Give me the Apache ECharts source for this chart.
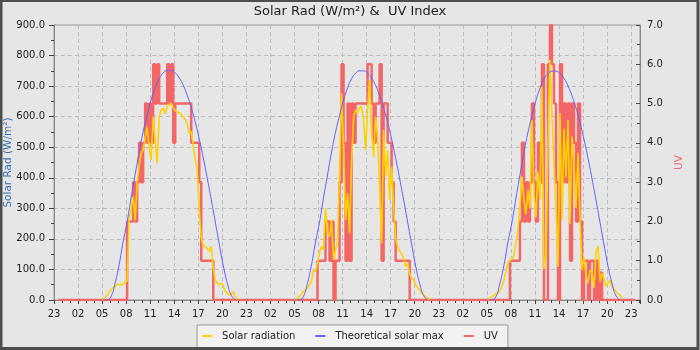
<!DOCTYPE html>
<html>
<head>
<meta charset="utf-8">
<script src="https://cdn.jsdelivr.net/npm/echarts@6.0.0/dist/echarts.min.js"></script>
<style>
  html, body { margin: 0; padding: 0; background: #e6e6e6; }
  #solar-uv-chart { width: 700px; height: 350px; }
</style>
</head>
<body>
<div id="solar-uv-chart"></div>
<script>
// x values are hours counted from the first 23:00 on the axis
const hourTicks = [23, 2, 5, 8, 11, 14, 17, 20];
const firstSample = 6.12;  // first daytime sample, ~05:07
const sampleStep = 0.25;   // solar + uv read every 15 min
const theoStep = 0.5;      // theoretical max read every 30 min
const uvNightStart = 0.55;
const uvNightEnd = 72.5;

// Solar radiation W/m2, day 1..3
const solarDay1 = [0, 8, 15, 25, 33, 40, 44, 52, 50, 49, 52, 58, 62, 262, 300, 338, 260, 380, 440, 480,
  491, 530, 567, 500, 458, 600, 520, 447, 600, 620, 628, 610, 633, 640, 644, 630, 620, 616, 612, 608,
  600, 590, 575, 545, 551, 505, 460, 425, 300, 200, 180, 175, 168, 160, 175, 100, 65, 55, 50, 55,
  45, 30, 22, 16, 20, 27, 10, 2];
const solarDay2 = [0, 5, 12, 20, 28, 33, 40, 50, 60, 98, 93, 120, 155, 175, 165, 300, 220, 207, 262, 131,
  164, 190, 420, 676, 500, 262, 349, 218, 450, 600, 622, 610, 630, 633, 589, 491, 622, 720, 545, 469,
  600, 534, 360, 186, 556, 404, 491, 327, 436, 300, 200, 175, 160, 150, 135, 110, 120, 85, 71, 65,
  50, 40, 33, 22, 16, 10, 5, 1];
const solarDay3 = [0, 5, 11, 15, 20, 22, 30, 45, 65, 93, 120, 128, 135, 147, 186, 230, 300, 404, 330, 280,
  360, 300, 589, 350, 270, 420, 330, 698, 100, 150, 500, 785, 600, 450, 300, 109, 611, 262, 560, 400,
  589, 250, 534, 450, 300, 480, 262, 98, 140, 80, 55, 98, 90, 40, 160, 175, 60, 87, 70, 45,
  55, 65, 43, 35, 27, 20, 16, 5];

// Theoretical solar max W/m2
const theoDay1 = [0, 0, 12, 55, 115, 190, 255, 335, 410, 485, 550, 605, 655, 695, 725, 743, 751, 751,
  743, 727, 703, 670, 630, 582, 527, 465, 398, 328, 255, 182, 112, 55, 15, 0];
const theoDay2 = [0, 0, 12, 55, 114, 189, 254, 334, 409, 484, 549, 604, 654, 694, 724, 742, 750, 750,
  742, 726, 702, 669, 629, 581, 526, 464, 397, 327, 254, 181, 111, 54, 14, 0];
const theoDay3 = [0, 0, 11, 54, 113, 188, 253, 333, 408, 483, 548, 603, 653, 693, 723, 741, 749, 749,
  741, 725, 701, 668, 628, 580, 525, 463, 396, 326, 253, 180, 110, 53, 13, 0];

// UV index
const uvDay1 = [0, 0, 0, 0, 0, 0, 0, 0, 0, 0, 0, 0, 2, 2, 2, 3, 2, 3, 4, 3,
  4, 5, 4, 5, 4, 6, 5, 6, 5, 5, 5, 5, 6, 5, 6, 4, 5, 5, 5, 5,
  5, 5, 5, 5, 4, 4, 4, 4, 3, 1, 1, 1, 1, 1, 1, 0, 0, 0, 0, 0,
  0, 0, 0, 0, 0, 0, 0, 0];
const uvDay2 = [0, 0, 0, 0, 0, 0, 0, 0, 0, 0, 0, 1, 1, 1, 1, 2, 2, 1, 2, 0,
  1, 1, 3, 6, 4, 1, 5, 1, 5, 4, 5, 5, 5, 5, 5, 5, 6, 6, 5, 4,
  5, 5, 6, 1, 5, 5, 4, 4, 3, 2, 1, 1, 1, 1, 1, 1, 1, 0, 0, 0,
  0, 0, 0, 0, 0, 0, 0, 0];
const uvDay3 = [0, 0, 0, 0, 0, 0, 0, 0, 0, 0, 0, 1, 1, 1, 1, 1, 2, 4, 2, 3,
  2, 3, 5, 3, 2, 4, 3, 6, 0, 0, 6, 7, 6, 5, 3, 0, 6, 3, 5, 3,
  5, 1, 5, 4, 2, 5, 2, 0, 1, 1, 0, 1, 1, 0, 1, 0, 0.7, 0, 0, 0,
  0, 0, 0, 0, 0, 0, 0, 0];

function daySeries(days, step) {
  let out = [];
  days.forEach((vals, d) => {
    vals.forEach((v, i) => {
      out.push([firstSample + 24 * d + i * step, v]);
    });
    out.push([firstSample + 24 * d + vals.length * step, '-']); // no line overnight
  });
  return out;
}

function uvSeries(days) {
  let out = [[uvNightStart, 0]];
  days.forEach((vals, d) => {
    vals.forEach((v, i) => {
      out.push([firstSample + 24 * d + i * sampleStep, v]);
    });
  });
  out.push([uvNightEnd, 0]);
  return out;
}

let myChart = echarts.init(document.getElementById('solar-uv-chart'));

const gridLine = {
  show: true,
  lineStyle: { color: '#bcbcbc', type: [4, 3], width: 1 }
};

let option = {
  animation: false,
  backgroundColor: '#e6e6e6',
  textStyle: { fontFamily: 'DejaVu Sans' },
  title: {
    text: 'Solar Rad (W/m²) &  UV Index',
    left: 'center',
    top: 5,
    padding: 0,
    textStyle: { fontSize: 13, fontWeight: 'normal', color: '#222', fontFamily: 'DejaVu Sans' }
  },
  grid: {
    left: 54,
    right: 60,
    top: 25,
    bottom: 50,
    containLabel: false,
    outerBoundsMode: 'none',
    show: true,
    borderColor: '#999',
    borderWidth: 1,
    backgroundColor: 'transparent'
  },
  legend: {
    left: 'center',
    top: 325,
    padding: [6, 10, 8, 5],
    itemGap: 20,
    itemWidth: 10,
    itemHeight: 2,
    icon: 'rect',
    backgroundColor: '#f2f2f2',
    borderColor: '#999',
    borderWidth: 1,
    textStyle: { fontSize: 10, color: '#222', padding: [0, 0, 0, 5] },
    data: ['Solar radiation', 'Theoretical solar max', 'UV']
  },
  xAxis: {
    type: 'value',
    min: 0,
    max: 73.1,
    interval: 3,
    axisLine: { lineStyle: { color: '#888' } },
    axisTick: { length: 4, lineStyle: { color: '#444' } },
    minorTick: { show: true, splitNumber: 3, length: 3, lineStyle: { color: '#444' } },
    splitLine: gridLine,
    axisLabel: {
      color: '#222',
      fontSize: 10,
      margin: 9,
      formatter: function (v) {
        if (v > 72.01 || Math.abs(v % 3) > 0.001) return '';
        let h = hourTicks[Math.round(v / 3) % 8];
        return h < 10 ? '0' + h : '' + h;
      }
    }
  },
  yAxis: [
    {
      type: 'value',
      min: 0,
      max: 900,
      interval: 100,
      name: 'Solar Rad (W/m²)',
      nameLocation: 'middle',
      nameGap: 40,
      nameMoveOverlap: false,
      nameTextStyle: { color: '#3572b0', fontSize: 10.5 },
      axisLine: { show: true, lineStyle: { color: '#888' } },
      axisTick: { show: true, length: 5, lineStyle: { color: '#444' } },
      minorTick: { show: true, splitNumber: 2, length: 3, lineStyle: { color: '#444' } },
      splitLine: gridLine,
      axisLabel: {
        color: '#222',
        fontSize: 10,
        margin: 9,
        formatter: v => v.toFixed(1)
      }
    },
    {
      type: 'value',
      min: 0,
      max: 7,
      interval: 1,
      name: 'UV',
      nameLocation: 'middle',
      nameGap: 34,
      nameTextStyle: { color: '#f06a6a', fontSize: 10.5 },
      axisLine: { show: true, lineStyle: { color: '#888' } },
      axisTick: { show: true, inside: true, length: 4, lineStyle: { color: '#444' } },
      minorTick: { show: true, splitNumber: 2, length: 3, lineStyle: { color: '#444' } },
      splitLine: { show: false },
      axisLabel: {
        color: '#222',
        fontSize: 10,
        margin: 7,
        formatter: v => v.toFixed(1)
      }
    }
  ],
  graphic: [
    {
      type: 'rect',
      silent: true,
      z: 100,
      shape: { x: 1, y: 0.5, width: 697, height: 348 },
      style: { fill: 'none', stroke: '#4d4d4d', lineWidth: 3 }
    }
  ],
  series: [
    {
      name: 'Solar radiation',
      type: 'line',
      z: 3,
      showSymbol: false,
      connectNulls: false,
      color: '#ffd200',
      lineStyle: { width: 1.6 },
      data: daySeries([solarDay1, solarDay2, solarDay3], sampleStep)
    },
    {
      name: 'Theoretical solar max',
      type: 'line',
      z: 4,
      smooth: true,
      showSymbol: false,
      connectNulls: false,
      color: '#6060ff',
      lineStyle: { width: 1 },
      data: daySeries([theoDay1, theoDay2, theoDay3], theoStep)
    },
    {
      name: 'UV',
      type: 'line',
      z: 2,
      yAxisIndex: 1,
      step: 'end',
      showSymbol: false,
      color: '#f46666',
      lineStyle: { width: 2.5 },
      data: uvSeries([uvDay1, uvDay2, uvDay3])
    }
  ]
};

myChart.setOption(option);
</script>
</body>
</html>
